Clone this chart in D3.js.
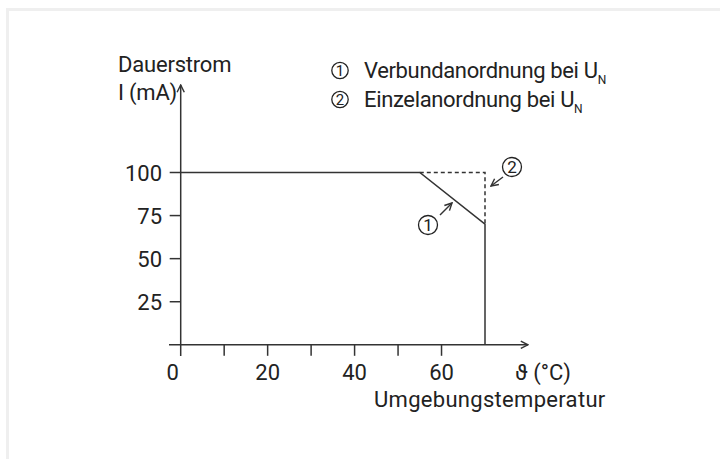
<!DOCTYPE html>
<html>
<head>
<meta charset="utf-8">
<script src="https://cdn.jsdelivr.net/npm/d3@7"></script>
<style>
  body { margin: 0; background: #fff; }
  svg text { font-family: Roboto, "Noto Sans", sans-serif; fill: #222; }
</style>
</head>
<body>
<svg></svg>
<script>
const width = 720;
const height = 459;

// data
const xTicks = [0, 10, 20, 30, 40, 50, 60];
const xLabels = [0, 20, 40, 60];
const yTicks = [25, 50, 75, 100];
const verbund = [[0, 100], [55, 100], [70, 70], [70, 0]];
const einzel = [[55, 100], [70, 100], [70, 70]];
const legendItems = ["Verbundanordnung bei U", "Einzelanordnung bei U"];
const legendMarks = ["1", "2"];

const svg = d3.select("svg")
    .attr("width", width)
    .attr("height", height);

const x = d3.scaleLinear().domain([0, 70]).range([180.7, 485]);
const y = d3.scaleLinear().domain([0, 100]).range([344.8, 172.5]);

const ink = "#333";
const fs = 22;

// light frame
svg.append("path")
    .attr("d", "M7.5,459 V9.5 H720")
    .attr("fill", "none")
    .attr("stroke", "#efefef")
    .attr("stroke-width", 3);

svg.append("defs").append("marker")
    .attr("id", "arr")
    .attr("viewBox", "0 0 10 10")
    .attr("refX", 9).attr("refY", 5)
    .attr("markerWidth", 9).attr("markerHeight", 9)
    .attr("markerUnits", "userSpaceOnUse")
    .attr("orient", "auto")
    .append("path")
    .attr("d", "M1,1 L9,5 L1,9")
    .attr("fill", "none")
    .attr("stroke", ink)
    .attr("stroke-width", 1.6);

// x axis line
svg.append("line")
    .attr("x1", 169).attr("x2", 528)
    .attr("y1", y(0)).attr("y2", y(0))
    .attr("stroke", ink).attr("stroke-width", 1.5)
    .attr("marker-end", "url(#arr)");

// y axis line
svg.append("line")
    .attr("x1", x(0)).attr("x2", x(0))
    .attr("y1", 356).attr("y2", 85)
    .attr("stroke", ink).attr("stroke-width", 1.5)
    .attr("marker-end", "url(#arr)");

// x ticks
svg.selectAll(".xt")
    .data(xTicks.filter(d => d > 0))
    .enter().append("line")
    .attr("x1", d => x(d)).attr("x2", d => x(d))
    .attr("y1", y(0)).attr("y2", y(0) + 11)
    .attr("stroke", ink).attr("stroke-width", 1.5);

svg.selectAll(".xl")
    .data(xLabels)
    .enter().append("text")
    .attr("x", d => d === 0 ? x(d) - 8 : x(d))
    .attr("y", 380)
    .attr("text-anchor", "middle")
    .attr("font-size", fs)
    .text(d => d);

// y ticks
svg.selectAll(".yt")
    .data(yTicks)
    .enter().append("line")
    .attr("x1", x(0) - 11).attr("x2", x(0))
    .attr("y1", d => y(d)).attr("y2", d => y(d))
    .attr("stroke", ink).attr("stroke-width", 1.5);

svg.selectAll(".yl")
    .data(yTicks)
    .enter().append("text")
    .attr("x", 162)
    .attr("y", d => y(d) + 8)
    .attr("text-anchor", "end")
    .attr("font-size", fs)
    .text(d => d);

// curves
const line = d3.line().x(d => x(d[0])).y(d => y(d[1]));

svg.append("path")
    .attr("d", line(einzel))
    .attr("fill", "none")
    .attr("stroke", ink).attr("stroke-width", 1.5)
    .attr("stroke-dasharray", "4,3");

svg.append("path")
    .attr("d", line(verbund))
    .attr("fill", "none")
    .attr("stroke", ink).attr("stroke-width", 1.5);

// axis titles
svg.append("text").attr("x", 118).attr("y", 72).attr("font-size", fs).attr("letter-spacing", -0.2).text("Dauerstrom");
svg.append("text").attr("x", 118).attr("y", 100).attr("font-size", fs).attr("letter-spacing", -0.2).text("I (mA)");
svg.append("text").attr("x", 515).attr("y", 380).attr("font-size", fs).text("\u03D1 (\u00B0C)");
svg.append("text").attr("x", 374).attr("y", 407).attr("font-size", fs).attr("letter-spacing", 0.3).text("Umgebungstemperatur");

// circled number helper
function circled(cx, cy, r, label, size) {
    svg.append("circle")
        .attr("cx", cx).attr("cy", cy).attr("r", r)
        .attr("fill", "none").attr("stroke", "#222").attr("stroke-width", 1.3);
    svg.append("text")
        .attr("x", cx).attr("y", cy + size * 0.36)
        .attr("text-anchor", "middle")
        .attr("font-size", size)
        .text(label);
}

// legend
legendItems.forEach((d, i) => {
    const by = 78 + i * 29;
    circled(340, by - 7.5, 8.2, legendMarks[i], 15);
    const t = svg.append("text")
        .attr("x", 364).attr("y", by)
        .attr("font-size", fs)
        .attr("letter-spacing", -0.35);
    t.append("tspan").text(d);
    t.append("tspan").attr("font-size", 12).attr("dy", 6).text("N");
});

// callouts in plot
circled(428, 225, 9.5, legendMarks[0], 17);
svg.append("line")
    .attr("x1", 440).attr("y1", 215).attr("x2", 452).attr("y2", 203)
    .attr("stroke", ink).attr("stroke-width", 1.4)
    .attr("marker-end", "url(#arr)");

circled(512, 167, 9.5, legendMarks[1], 17);
svg.append("line")
    .attr("x1", 503).attr("y1", 177).attr("x2", 491).attr("y2", 186)
    .attr("stroke", ink).attr("stroke-width", 1.4)
    .attr("marker-end", "url(#arr)");
</script>
</body>
</html>
